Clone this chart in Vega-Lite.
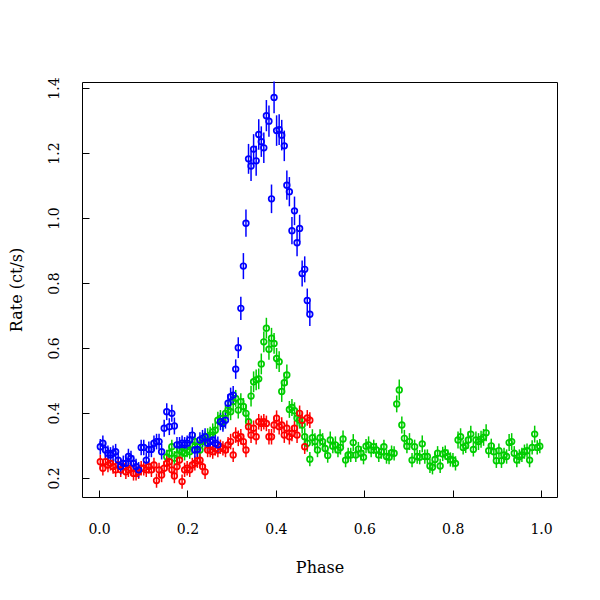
{
"$schema":"https://vega.github.io/schema/vega-lite/v6.json",
"width":475,"height":415,
"autosize":{"type":"none"},
"padding":{"left":82,"top":82,"right":43,"bottom":103},
"background":"white",
"config":{"view":{"stroke":"#000","strokeWidth":1},"font":"DejaVu Serif"},
"data":{"values":[
{"s":"g","p":0.1532,"v":0.265,"e":0.022},{"s":"g","p":0.1590,"v":0.276,"e":0.022},{"s":"g","p":0.1647,"v":0.296,"e":0.022},{"s":"g","p":0.1705,"v":0.261,"e":0.022},{"s":"g","p":0.1763,"v":0.271,"e":0.022},{"s":"g","p":0.1821,"v":0.286,"e":0.022},{"s":"g","p":0.1879,"v":0.281,"e":0.022},{"s":"g","p":0.1936,"v":0.276,"e":0.022},{"s":"g","p":0.1994,"v":0.286,"e":0.022},{"s":"g","p":0.2052,"v":0.281,"e":0.022},
{"s":"g","p":0.2110,"v":0.302,"e":0.026},{"s":"g","p":0.2168,"v":0.312,"e":0.026},{"s":"g","p":0.2225,"v":0.296,"e":0.022},{"s":"g","p":0.2283,"v":0.286,"e":0.022},{"s":"g","p":0.2341,"v":0.312,"e":0.026},{"s":"g","p":0.2399,"v":0.317,"e":0.026},{"s":"g","p":0.2457,"v":0.327,"e":0.026},{"s":"g","p":0.2514,"v":0.332,"e":0.026},{"s":"g","p":0.2572,"v":0.342,"e":0.026},{"s":"g","p":0.2630,"v":0.347,"e":0.026},
{"s":"g","p":0.2688,"v":0.378,"e":0.026},{"s":"g","p":0.2746,"v":0.383,"e":0.026},{"s":"g","p":0.2803,"v":0.373,"e":0.026},{"s":"g","p":0.2861,"v":0.399,"e":0.026},{"s":"g","p":0.2919,"v":0.409,"e":0.026},{"s":"g","p":0.2977,"v":0.404,"e":0.026},{"s":"g","p":0.3035,"v":0.435,"e":0.026},{"s":"g","p":0.3092,"v":0.445,"e":0.026},{"s":"g","p":0.3150,"v":0.409,"e":0.026},{"s":"g","p":0.3208,"v":0.435,"e":0.026},
{"s":"g","p":0.3266,"v":0.420,"e":0.026},{"s":"g","p":0.3324,"v":0.399,"e":0.026},{"s":"g","p":0.3382,"v":0.373,"e":0.026},{"s":"g","p":0.3439,"v":0.452,"e":0.032},{"s":"g","p":0.3497,"v":0.496,"e":0.032},{"s":"g","p":0.3555,"v":0.502,"e":0.032},{"s":"g","p":0.3613,"v":0.505,"e":0.032},{"s":"g","p":0.3671,"v":0.551,"e":0.032},{"s":"g","p":0.3728,"v":0.619,"e":0.032},{"s":"g","p":0.3786,"v":0.661,"e":0.032},
{"s":"g","p":0.3844,"v":0.596,"e":0.032},{"s":"g","p":0.3902,"v":0.630,"e":0.032},{"s":"g","p":0.3960,"v":0.614,"e":0.032},{"s":"g","p":0.4017,"v":0.568,"e":0.032},{"s":"g","p":0.4075,"v":0.558,"e":0.032},{"s":"g","p":0.4133,"v":0.466,"e":0.032},{"s":"g","p":0.4191,"v":0.493,"e":0.032},{"s":"g","p":0.4249,"v":0.517,"e":0.032},{"s":"g","p":0.4306,"v":0.411,"e":0.026},{"s":"g","p":0.4364,"v":0.417,"e":0.026},
{"s":"g","p":0.4422,"v":0.407,"e":0.026},{"s":"g","p":0.4480,"v":0.384,"e":0.026},{"s":"g","p":0.4538,"v":0.378,"e":0.026},{"s":"g","p":0.4595,"v":0.363,"e":0.026},{"s":"g","p":0.4653,"v":0.327,"e":0.026},{"s":"g","p":0.4711,"v":0.307,"e":0.026},{"s":"g","p":0.4769,"v":0.258,"e":0.022},{"s":"g","p":0.4827,"v":0.324,"e":0.026},{"s":"g","p":0.4884,"v":0.312,"e":0.026},{"s":"g","p":0.4942,"v":0.286,"e":0.022},
{"s":"g","p":0.5000,"v":0.324,"e":0.026},{"s":"g","p":0.5058,"v":0.312,"e":0.026},{"s":"g","p":0.5116,"v":0.291,"e":0.022},{"s":"g","p":0.5173,"v":0.269,"e":0.022},{"s":"g","p":0.5231,"v":0.317,"e":0.026},{"s":"g","p":0.5289,"v":0.298,"e":0.022},{"s":"g","p":0.5347,"v":0.302,"e":0.026},{"s":"g","p":0.5405,"v":0.286,"e":0.022},{"s":"g","p":0.5462,"v":0.294,"e":0.022},{"s":"g","p":0.5520,"v":0.320,"e":0.026},
{"s":"g","p":0.5578,"v":0.255,"e":0.022},{"s":"g","p":0.5636,"v":0.271,"e":0.022},{"s":"g","p":0.5694,"v":0.271,"e":0.022},{"s":"g","p":0.5751,"v":0.309,"e":0.026},{"s":"g","p":0.5809,"v":0.271,"e":0.022},{"s":"g","p":0.5867,"v":0.289,"e":0.022},{"s":"g","p":0.5925,"v":0.276,"e":0.022},{"s":"g","p":0.5983,"v":0.264,"e":0.022},{"s":"g","p":0.6040,"v":0.298,"e":0.022},{"s":"g","p":0.6098,"v":0.302,"e":0.026},
{"s":"g","p":0.6156,"v":0.286,"e":0.022},{"s":"g","p":0.6214,"v":0.296,"e":0.022},{"s":"g","p":0.6272,"v":0.286,"e":0.022},{"s":"g","p":0.6329,"v":0.271,"e":0.022},{"s":"g","p":0.6387,"v":0.281,"e":0.022},{"s":"g","p":0.6445,"v":0.296,"e":0.022},{"s":"g","p":0.6503,"v":0.266,"e":0.022},{"s":"g","p":0.6561,"v":0.264,"e":0.022},{"s":"g","p":0.6618,"v":0.278,"e":0.022},{"s":"g","p":0.6676,"v":0.276,"e":0.022},
{"s":"g","p":0.6734,"v":0.428,"e":0.026},{"s":"g","p":0.6792,"v":0.471,"e":0.032},{"s":"g","p":0.6850,"v":0.363,"e":0.026},{"s":"g","p":0.6908,"v":0.322,"e":0.026},{"s":"g","p":0.6965,"v":0.298,"e":0.022},{"s":"g","p":0.7023,"v":0.312,"e":0.026},{"s":"g","p":0.7081,"v":0.255,"e":0.022},{"s":"g","p":0.7139,"v":0.296,"e":0.022},{"s":"g","p":0.7197,"v":0.266,"e":0.022},{"s":"g","p":0.7254,"v":0.264,"e":0.022},
{"s":"g","p":0.7312,"v":0.305,"e":0.026},{"s":"g","p":0.7370,"v":0.266,"e":0.022},{"s":"g","p":0.7428,"v":0.266,"e":0.022},{"s":"g","p":0.7486,"v":0.237,"e":0.022},{"s":"g","p":0.7543,"v":0.233,"e":0.022},{"s":"g","p":0.7601,"v":0.257,"e":0.022},{"s":"g","p":0.7659,"v":0.276,"e":0.022},{"s":"g","p":0.7717,"v":0.237,"e":0.022},{"s":"g","p":0.7775,"v":0.274,"e":0.022},{"s":"g","p":0.7832,"v":0.278,"e":0.022},
{"s":"g","p":0.7890,"v":0.266,"e":0.022},{"s":"g","p":0.7948,"v":0.257,"e":0.022},{"s":"g","p":0.8006,"v":0.255,"e":0.022},{"s":"g","p":0.8064,"v":0.245,"e":0.022},{"s":"g","p":0.8121,"v":0.317,"e":0.026},{"s":"g","p":0.8179,"v":0.327,"e":0.026},{"s":"g","p":0.8237,"v":0.294,"e":0.022},{"s":"g","p":0.8295,"v":0.299,"e":0.022},{"s":"g","p":0.8353,"v":0.317,"e":0.026},{"s":"g","p":0.8410,"v":0.335,"e":0.026},
{"s":"g","p":0.8468,"v":0.288,"e":0.022},{"s":"g","p":0.8526,"v":0.317,"e":0.026},{"s":"g","p":0.8584,"v":0.312,"e":0.026},{"s":"g","p":0.8642,"v":0.319,"e":0.026},{"s":"g","p":0.8699,"v":0.325,"e":0.026},{"s":"g","p":0.8757,"v":0.339,"e":0.026},{"s":"g","p":0.8815,"v":0.284,"e":0.022},{"s":"g","p":0.8873,"v":0.299,"e":0.022},{"s":"g","p":0.8931,"v":0.281,"e":0.022},{"s":"g","p":0.8988,"v":0.253,"e":0.022},
{"s":"g","p":0.9046,"v":0.284,"e":0.022},{"s":"g","p":0.9104,"v":0.253,"e":0.022},{"s":"g","p":0.9162,"v":0.271,"e":0.022},{"s":"g","p":0.9220,"v":0.266,"e":0.022},{"s":"g","p":0.9277,"v":0.309,"e":0.026},{"s":"g","p":0.9335,"v":0.312,"e":0.026},{"s":"g","p":0.9393,"v":0.276,"e":0.022},{"s":"g","p":0.9451,"v":0.255,"e":0.022},{"s":"g","p":0.9509,"v":0.266,"e":0.022},{"s":"g","p":0.9566,"v":0.271,"e":0.022},
{"s":"g","p":0.9624,"v":0.281,"e":0.022},{"s":"g","p":0.9682,"v":0.284,"e":0.022},{"s":"g","p":0.9740,"v":0.255,"e":0.022},{"s":"g","p":0.9798,"v":0.294,"e":0.022},{"s":"g","p":0.9855,"v":0.335,"e":0.026},{"s":"g","p":0.9913,"v":0.294,"e":0.022},{"s":"g","p":0.9971,"v":0.298,"e":0.022},
{"s":"r","p":0.0029,"v":0.250,"e":0.022},{"s":"r","p":0.0087,"v":0.230,"e":0.022},{"s":"r","p":0.0145,"v":0.250,"e":0.022},{"s":"r","p":0.0202,"v":0.240,"e":0.022},{"s":"r","p":0.0260,"v":0.245,"e":0.022},{"s":"r","p":0.0318,"v":0.235,"e":0.022},{"s":"r","p":0.0376,"v":0.225,"e":0.022},{"s":"r","p":0.0434,"v":0.240,"e":0.022},{"s":"r","p":0.0491,"v":0.225,"e":0.022},{"s":"r","p":0.0549,"v":0.235,"e":0.022},
{"s":"r","p":0.0607,"v":0.219,"e":0.022},{"s":"r","p":0.0665,"v":0.225,"e":0.022},{"s":"r","p":0.0723,"v":0.230,"e":0.022},{"s":"r","p":0.0780,"v":0.214,"e":0.022},{"s":"r","p":0.0838,"v":0.214,"e":0.022},{"s":"r","p":0.0896,"v":0.219,"e":0.022},{"s":"r","p":0.0954,"v":0.230,"e":0.022},{"s":"r","p":0.1012,"v":0.230,"e":0.022},{"s":"r","p":0.1069,"v":0.225,"e":0.022},{"s":"r","p":0.1127,"v":0.235,"e":0.022},
{"s":"r","p":0.1185,"v":0.225,"e":0.022},{"s":"r","p":0.1243,"v":0.240,"e":0.022},{"s":"r","p":0.1301,"v":0.192,"e":0.022},{"s":"r","p":0.1358,"v":0.225,"e":0.022},{"s":"r","p":0.1416,"v":0.209,"e":0.022},{"s":"r","p":0.1474,"v":0.230,"e":0.022},{"s":"r","p":0.1532,"v":0.245,"e":0.022},{"s":"r","p":0.1590,"v":0.250,"e":0.022},{"s":"r","p":0.1647,"v":0.225,"e":0.022},{"s":"r","p":0.1705,"v":0.206,"e":0.022},
{"s":"r","p":0.1763,"v":0.235,"e":0.022},{"s":"r","p":0.1821,"v":0.255,"e":0.022},{"s":"r","p":0.1879,"v":0.189,"e":0.022},{"s":"r","p":0.1936,"v":0.225,"e":0.022},{"s":"r","p":0.1994,"v":0.230,"e":0.022},{"s":"r","p":0.2052,"v":0.225,"e":0.022},{"s":"r","p":0.2110,"v":0.240,"e":0.022},{"s":"r","p":0.2168,"v":0.245,"e":0.022},{"s":"r","p":0.2225,"v":0.253,"e":0.022},{"s":"r","p":0.2283,"v":0.255,"e":0.022},
{"s":"r","p":0.2341,"v":0.235,"e":0.022},{"s":"r","p":0.2399,"v":0.219,"e":0.022},{"s":"r","p":0.2457,"v":0.286,"e":0.022},{"s":"r","p":0.2514,"v":0.286,"e":0.022},{"s":"r","p":0.2572,"v":0.281,"e":0.022},{"s":"r","p":0.2630,"v":0.291,"e":0.022},{"s":"r","p":0.2688,"v":0.286,"e":0.022},{"s":"r","p":0.2746,"v":0.296,"e":0.022},{"s":"r","p":0.2803,"v":0.291,"e":0.022},{"s":"r","p":0.2861,"v":0.286,"e":0.022},
{"s":"r","p":0.2919,"v":0.302,"e":0.024},{"s":"r","p":0.2977,"v":0.312,"e":0.024},{"s":"r","p":0.3035,"v":0.271,"e":0.022},{"s":"r","p":0.3092,"v":0.332,"e":0.024},{"s":"r","p":0.3150,"v":0.322,"e":0.024},{"s":"r","p":0.3208,"v":0.327,"e":0.024},{"s":"r","p":0.3266,"v":0.312,"e":0.024},{"s":"r","p":0.3324,"v":0.286,"e":0.022},{"s":"r","p":0.3382,"v":0.358,"e":0.024},{"s":"r","p":0.3439,"v":0.332,"e":0.024},
{"s":"r","p":0.3497,"v":0.353,"e":0.024},{"s":"r","p":0.3555,"v":0.327,"e":0.024},{"s":"r","p":0.3613,"v":0.373,"e":0.024},{"s":"r","p":0.3671,"v":0.368,"e":0.024},{"s":"r","p":0.3728,"v":0.373,"e":0.024},{"s":"r","p":0.3786,"v":0.368,"e":0.024},{"s":"r","p":0.3844,"v":0.327,"e":0.024},{"s":"r","p":0.3902,"v":0.327,"e":0.024},{"s":"r","p":0.3960,"v":0.363,"e":0.024},{"s":"r","p":0.4017,"v":0.384,"e":0.024},
{"s":"r","p":0.4075,"v":0.358,"e":0.024},{"s":"r","p":0.4133,"v":0.363,"e":0.024},{"s":"r","p":0.4191,"v":0.332,"e":0.024},{"s":"r","p":0.4249,"v":0.353,"e":0.024},{"s":"r","p":0.4306,"v":0.327,"e":0.024},{"s":"r","p":0.4364,"v":0.337,"e":0.024},{"s":"r","p":0.4422,"v":0.353,"e":0.024},{"s":"r","p":0.4480,"v":0.332,"e":0.024},{"s":"r","p":0.4538,"v":0.399,"e":0.024},{"s":"r","p":0.4595,"v":0.378,"e":0.024},
{"s":"r","p":0.4653,"v":0.296,"e":0.022},{"s":"r","p":0.4711,"v":0.385,"e":0.024},{"s":"r","p":0.4769,"v":0.378,"e":0.024},
{"s":"b","p":0.0029,"v":0.296,"e":0.024},{"s":"b","p":0.0087,"v":0.307,"e":0.024},{"s":"b","p":0.0145,"v":0.286,"e":0.024},{"s":"b","p":0.0202,"v":0.276,"e":0.024},{"s":"b","p":0.0260,"v":0.271,"e":0.024},{"s":"b","p":0.0318,"v":0.276,"e":0.024},{"s":"b","p":0.0376,"v":0.281,"e":0.024},{"s":"b","p":0.0434,"v":0.255,"e":0.024},{"s":"b","p":0.0491,"v":0.235,"e":0.024},{"s":"b","p":0.0549,"v":0.245,"e":0.024},
{"s":"b","p":0.0607,"v":0.245,"e":0.024},{"s":"b","p":0.0665,"v":0.266,"e":0.024},{"s":"b","p":0.0723,"v":0.260,"e":0.024},{"s":"b","p":0.0780,"v":0.245,"e":0.024},{"s":"b","p":0.0838,"v":0.235,"e":0.024},{"s":"b","p":0.0896,"v":0.225,"e":0.024},{"s":"b","p":0.0954,"v":0.294,"e":0.024},{"s":"b","p":0.1012,"v":0.294,"e":0.024},{"s":"b","p":0.1069,"v":0.255,"e":0.024},{"s":"b","p":0.1127,"v":0.288,"e":0.024},
{"s":"b","p":0.1185,"v":0.288,"e":0.024},{"s":"b","p":0.1243,"v":0.307,"e":0.024},{"s":"b","p":0.1301,"v":0.312,"e":0.024},{"s":"b","p":0.1358,"v":0.312,"e":0.024},{"s":"b","p":0.1416,"v":0.281,"e":0.024},{"s":"b","p":0.1474,"v":0.353,"e":0.026},{"s":"b","p":0.1532,"v":0.404,"e":0.026},{"s":"b","p":0.1590,"v":0.358,"e":0.026},{"s":"b","p":0.1647,"v":0.399,"e":0.026},{"s":"b","p":0.1705,"v":0.360,"e":0.026},
{"s":"b","p":0.1763,"v":0.302,"e":0.024},{"s":"b","p":0.1821,"v":0.302,"e":0.024},{"s":"b","p":0.1879,"v":0.307,"e":0.024},{"s":"b","p":0.1936,"v":0.302,"e":0.024},{"s":"b","p":0.1994,"v":0.307,"e":0.024},{"s":"b","p":0.2052,"v":0.317,"e":0.024},{"s":"b","p":0.2110,"v":0.332,"e":0.024},{"s":"b","p":0.2168,"v":0.286,"e":0.024},{"s":"b","p":0.2225,"v":0.288,"e":0.024},{"s":"b","p":0.2283,"v":0.317,"e":0.024},
{"s":"b","p":0.2341,"v":0.322,"e":0.026},{"s":"b","p":0.2399,"v":0.327,"e":0.026},{"s":"b","p":0.2457,"v":0.307,"e":0.026},{"s":"b","p":0.2514,"v":0.312,"e":0.026},{"s":"b","p":0.2572,"v":0.317,"e":0.026},{"s":"b","p":0.2630,"v":0.307,"e":0.026},{"s":"b","p":0.2688,"v":0.302,"e":0.026},{"s":"b","p":0.2746,"v":0.373,"e":0.026},{"s":"b","p":0.2803,"v":0.368,"e":0.026},{"s":"b","p":0.2861,"v":0.378,"e":0.026},
{"s":"b","p":0.2919,"v":0.430,"e":0.028},{"s":"b","p":0.2977,"v":0.450,"e":0.028},{"s":"b","p":0.3035,"v":0.455,"e":0.028},{"s":"b","p":0.3092,"v":0.535,"e":0.03},{"s":"b","p":0.3150,"v":0.601,"e":0.032},{"s":"b","p":0.3208,"v":0.722,"e":0.036},{"s":"b","p":0.3266,"v":0.852,"e":0.04},{"s":"b","p":0.3324,"v":0.984,"e":0.042},{"s":"b","p":0.3382,"v":1.182,"e":0.046},{"s":"b","p":0.3439,"v":1.160,"e":0.046},
{"s":"b","p":0.3497,"v":1.212,"e":0.046},{"s":"b","p":0.3555,"v":1.176,"e":0.046},{"s":"b","p":0.3613,"v":1.257,"e":0.047},{"s":"b","p":0.3671,"v":1.235,"e":0.047},{"s":"b","p":0.3728,"v":1.216,"e":0.047},{"s":"b","p":0.3786,"v":1.315,"e":0.048},{"s":"b","p":0.3844,"v":1.298,"e":0.048},{"s":"b","p":0.3902,"v":1.059,"e":0.044},{"s":"b","p":0.3960,"v":1.371,"e":0.049},{"s":"b","p":0.4017,"v":1.269,"e":0.047},
{"s":"b","p":0.4075,"v":1.272,"e":0.047},{"s":"b","p":0.4133,"v":1.255,"e":0.047},{"s":"b","p":0.4191,"v":1.222,"e":0.047},{"s":"b","p":0.4249,"v":1.101,"e":0.045},{"s":"b","p":0.4306,"v":1.081,"e":0.045},{"s":"b","p":0.4364,"v":0.961,"e":0.042},{"s":"b","p":0.4422,"v":1.022,"e":0.044},{"s":"b","p":0.4480,"v":0.924,"e":0.042},{"s":"b","p":0.4538,"v":0.968,"e":0.042},{"s":"b","p":0.4595,"v":0.829,"e":0.04},
{"s":"b","p":0.4653,"v":0.842,"e":0.04},{"s":"b","p":0.4711,"v":0.746,"e":0.037},{"s":"b","p":0.4769,"v":0.704,"e":0.036}
]},
"encoding":{
"x":{"field":"p","type":"quantitative","scale":{"domain":[-0.0385,1.036],"nice":false,"zero":false},
"axis":{"values":[0,0.2,0.4,0.6,0.8,1],"format":".1f","title":"Phase","grid":false,"domain":false,"tickSize":-7,"tickColor":"#000","tickWidth":1,"labelPadding":32,"labelFont":"DejaVu Serif","labelFontSize":14,"labelColor":"#000","labelFlush":false,"titleFont":"DejaVu Serif","titleFontSize":16,"titleFontWeight":"normal","titleColor":"#000","titlePadding":23}},
"y":{"field":"v","type":"quantitative","scale":{"domain":[0.1415,1.4185],"nice":false,"zero":false},
"axis":{"values":[0.2,0.4,0.6,0.8,1.0,1.2,1.4],"format":".1f","title":"Rate (ct/s)","grid":false,"domain":false,"tickSize":-7,"tickColor":"#000","tickWidth":1,"labelAngle":-90,"labelPadding":28,"labelFont":"DejaVu Serif","labelFontSize":14,"labelColor":"#000","labelFlush":false,"titleFont":"DejaVu Serif","titleFontSize":16,"titleFontWeight":"normal","titleColor":"#000","titlePadding":23}},
"color":{"field":"s","type":"nominal","scale":{"domain":["g","r","b"],"range":["#00CD00","#FF0000","#0000FF"]},"legend":null}
},
"layer":[
{"mark":{"type":"errorbar","thickness":1.5},"encoding":{"yError":{"field":"e"}}},
{"mark":{"type":"point","shape":"circle","filled":false,"size":32,"strokeWidth":1.7,"opacity":1}}
]
}
